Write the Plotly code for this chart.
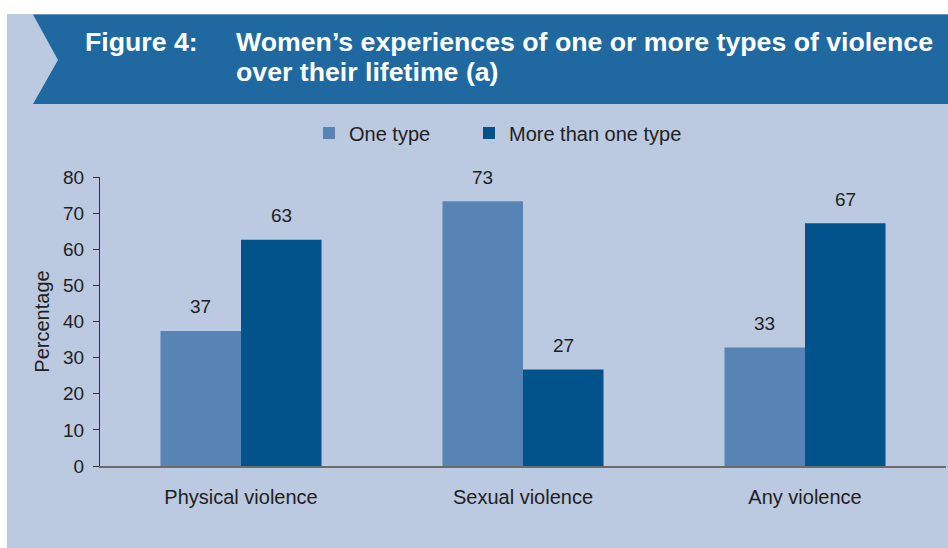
import plotly.graph_objects as go

categories = ["Physical violence", "Sexual violence", "Any violence"]
one_type = [37.4, 73.3, 32.8]
more_than_one = [62.6, 26.7, 67.2]
series_names = ["One type", "More than one type"]
y_ticks = [0, 10, 20, 30, 40, 50, 60, 70, 80]

W, H = 948, 548
ML, MR, MT, MB = 100, 2, 177, 82
PW, PH = W - ML - MR, H - MT - MB


def px(x):
    return (x - ML) / PW


def py(y):
    return (H - MB - y) / PH


FONT = "Liberation Sans, Arial, sans-serif"
TXT = "#231f20"
C1 = "#5884b5"
C2 = "#02528c"
PANEL = "#bbc9e1"
BANNER = "#1f69a0"

fig = go.Figure()
fig.add_trace(go.Bar(x=categories, y=one_type, name=series_names[0], legend="legend",
                     marker=dict(color=C1, line=dict(width=0))))
fig.add_trace(go.Bar(x=categories, y=more_than_one, name=series_names[1], legend="legend2",
                     marker=dict(color=C2, line=dict(width=0))))

annotations = []
for vals, shift in ((one_type, -40.5), (more_than_one, 40.5)):
    for c, v in zip(categories, vals):
        annotations.append(dict(x=c, y=v, xref="x", yref="y", text=f"{round(v)}", showarrow=False,
                                xshift=shift, yshift=24, yanchor="middle",
                                font=dict(family=FONT, size=19, color=TXT)))

title_font = dict(family=FONT, size=26.7, color="white")
annotations += [
    dict(x=px(83), y=py(42), xref="paper", yref="paper", text="<b>Figure 4:</b>", showarrow=False,
         xanchor="left", yanchor="middle", font=title_font),
    dict(x=px(234), y=py(42), xref="paper", yref="paper",
         text="<b>Women’s experiences of one or more types of violence</b>", showarrow=False,
         xanchor="left", yanchor="middle", font=title_font),
    dict(x=px(234), y=py(72), xref="paper", yref="paper", text="<b>over their lifetime (a)</b>",
         showarrow=False, xanchor="left", yanchor="middle", font=title_font),
]

shapes = [
    dict(type="rect", xref="paper", yref="paper", x0=px(7), x1=px(948), y0=py(14), y1=py(548),
         fillcolor=PANEL, line=dict(width=0), layer="below"),
    dict(type="path", xref="paper", yref="paper",
         path=f"M {px(33)},{py(14.5)} L {px(948)},{py(14.5)} L {px(948)},{py(104)} L {px(33)},{py(104)} L {px(58)},{py(60)} Z",
         fillcolor=BANNER, line=dict(width=0), layer="below"),
]

legend_common = dict(orientation="h", yanchor="middle", xanchor="left", bgcolor="rgba(0,0,0,0)",
                     font=dict(family=FONT, size=20, color=TXT), itemclick=False, itemdoubleclick=False)

fig.update_layout(
    width=W, height=H,
    margin=dict(l=ML, r=MR, t=MT, b=MB, pad=0),
    paper_bgcolor="white", plot_bgcolor="rgba(0,0,0,0)",
    barmode="group", bargap=0.429, bargroupgap=0,
    font=dict(family=FONT, size=19, color=TXT),
    showlegend=True,
    legend=dict(x=px(309), y=py(133), **legend_common),
    legend2=dict(x=px(469), y=py(133), **legend_common),
    shapes=shapes,
    annotations=annotations,
)
fig.update_xaxes(showline=True, linecolor="#6b6b6b", linewidth=1.5, ticks="", showgrid=False,
                 tickfont=dict(family=FONT, size=20, color=TXT), ticklabelstandoff=12,
                 range=[-0.5, 2.5])
fig.update_yaxes(range=[0, 80], tickvals=y_ticks, showline=True, linecolor="#333333", linewidth=1,
                 ticks="outside", ticklen=6, tickcolor="#333333", showgrid=False, zeroline=False,
                 tickfont=dict(family=FONT, size=19, color=TXT), ticklabelstandoff=5,
                 title=dict(text="Percentage", font=dict(family=FONT, size=20, color=TXT), standoff=8))

fig.write_html("out.html", config={"displayModeBar": False},
               post_script="document.body.style.margin='0';document.body.style.overflow='hidden';")
